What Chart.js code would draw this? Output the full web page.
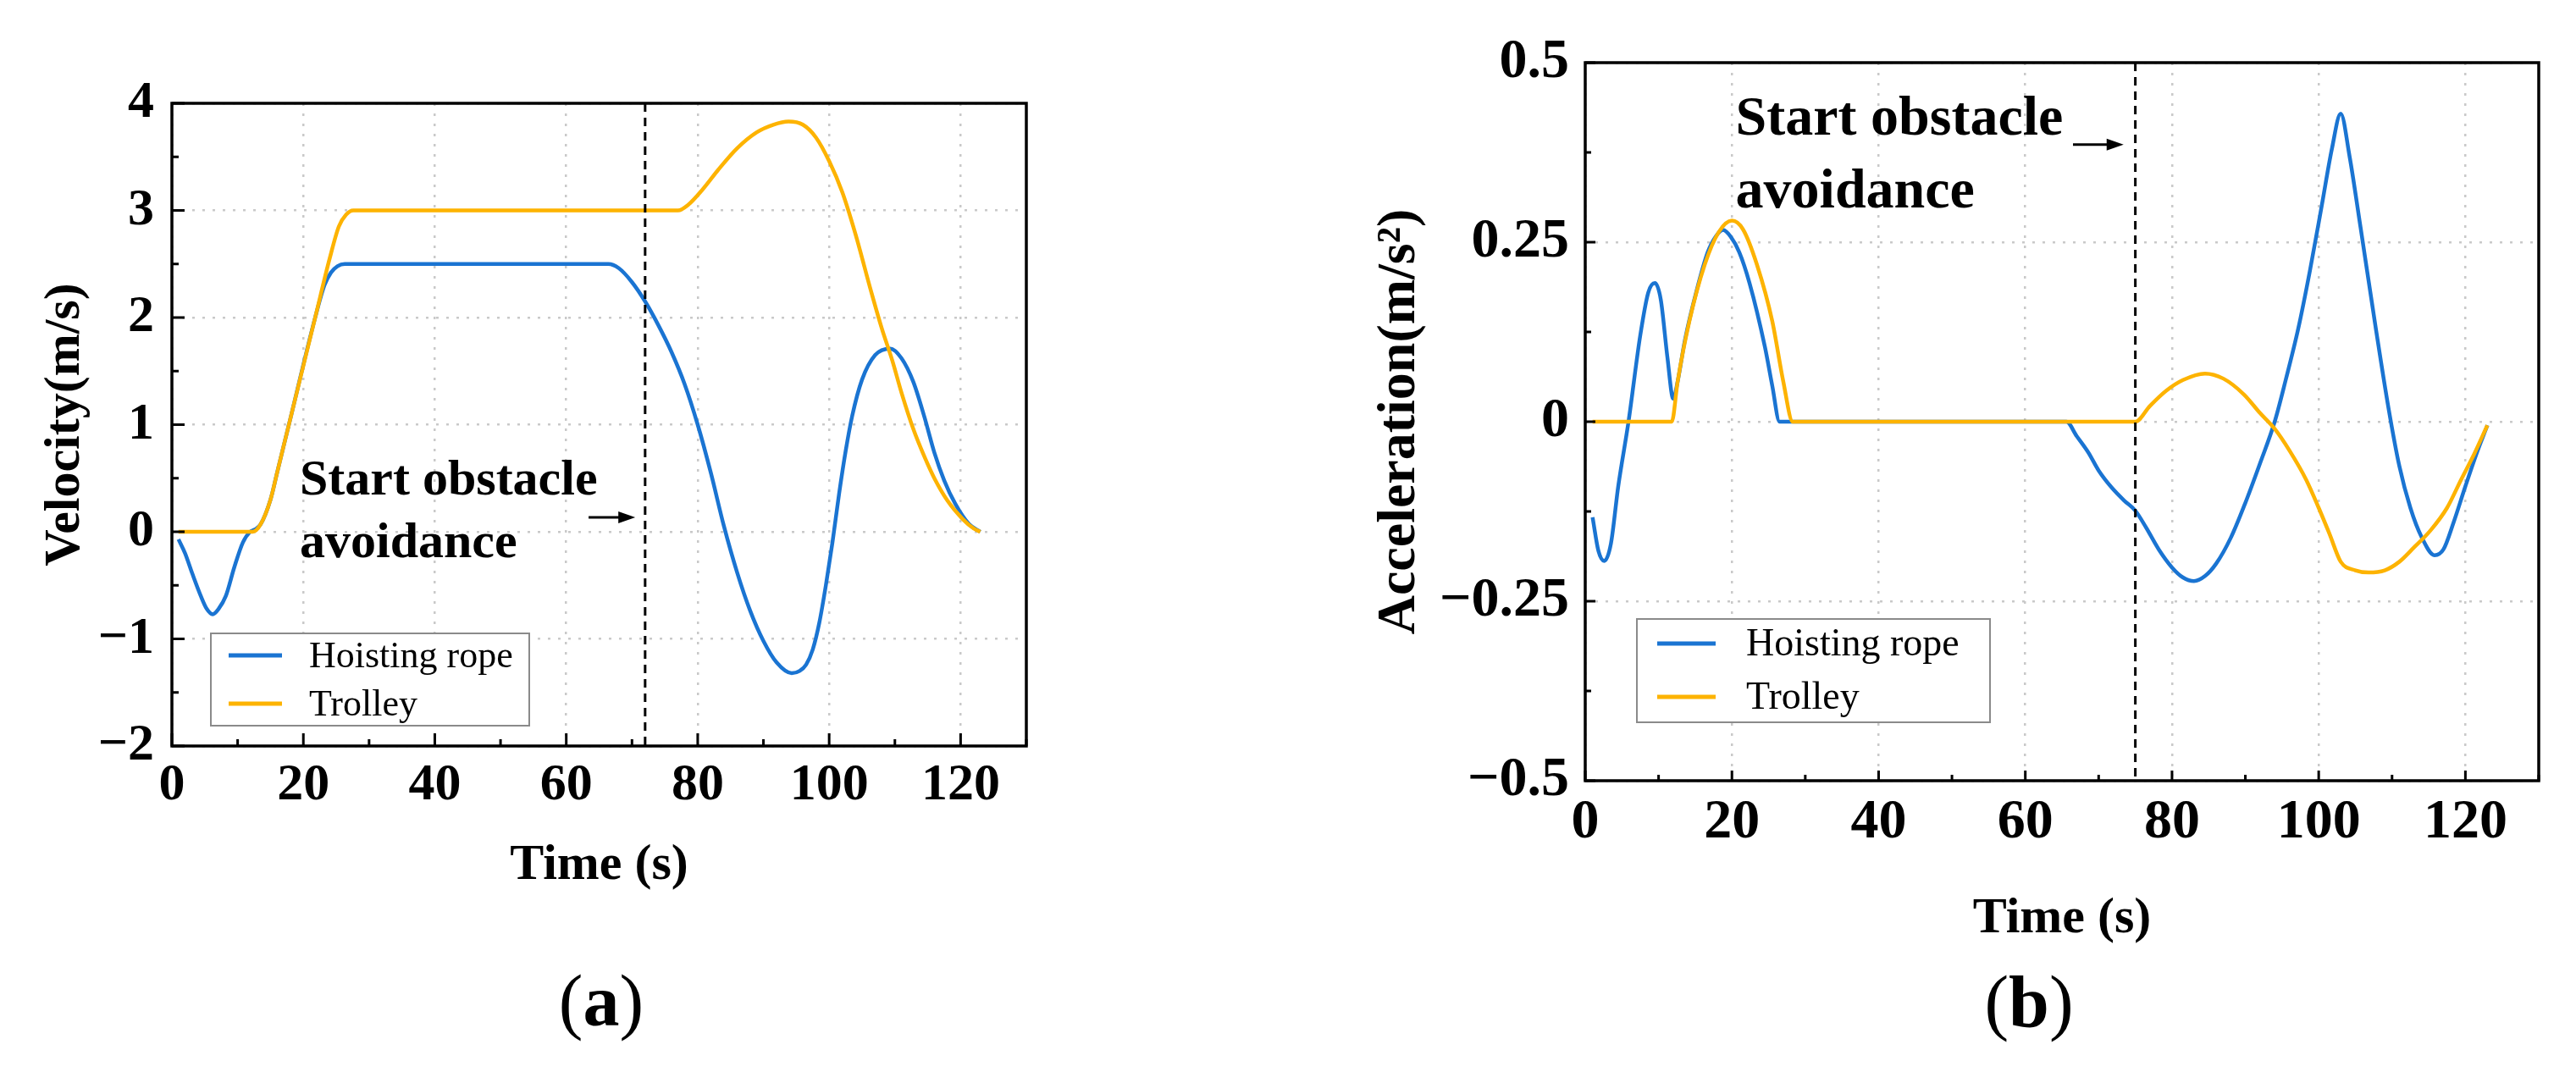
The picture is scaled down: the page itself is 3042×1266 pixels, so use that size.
<!DOCTYPE html>
<html>
<head>
<meta charset="utf-8">
<script src="https://cdn.jsdelivr.net/npm/chart.js@4.4.1/dist/chart.umd.min.js"></script>
<style>
  html, body { margin: 0; padding: 0; background: #fff; }
  body { width: 3042px; height: 1266px; position: relative; overflow: hidden; }
  canvas { position: absolute; top: 0; }
  #chartA { left: 0; }
  #chartB { left: 1560px; }
</style>
</head>
<body>
<canvas id="chartA" width="1300" height="1266"></canvas>
<canvas id="chartB" width="1482" height="1266"></canvas>
<script>
// ---- data ----
const seriesNames = ['Hoisting rope', 'Trolley'];
const noteLines = ['Start obstacle', 'avoidance'];

// (a) velocity, m/s
const ropeVelTime = [1, 2, 3.1, 4.4, 5.3, 6.2, 7.1, 8.2, 9.5, 10.8, 11.9, 12.6, 13.5, 15, 16, 17.8, 21.8, 23.2, 24.2, 25.2, 26.3,
  66.4, 68, 70, 72, 74, 76, 78, 80, 82, 84, 86, 88, 90, 92, 94.3, 95.5, 96.5, 97.5, 98.5, 99.5, 100.5, 101.5, 102.5, 103.5,
  105, 107, 109.3, 111, 112.8, 114.5, 116, 117.5, 119.2, 121.3, 123];
const ropeVel = [-0.07, -0.2, -0.39, -0.6, -0.72, -0.77, -0.72, -0.6, -0.33, -0.1, 0, 0.02, 0.07, 0.3, 0.55, 1.0, 2.0, 2.3, 2.42, 2.48, 2.5,
  2.5, 2.46, 2.33, 2.15, 1.93, 1.68, 1.38, 1.0, 0.55, 0.05, -0.38, -0.74, -1.02, -1.22, -1.32, -1.3, -1.24, -1.1, -0.85, -0.5, -0.1, 0.35, 0.75, 1.08,
  1.42, 1.65, 1.71, 1.62, 1.4, 1.07, 0.74, 0.48, 0.26, 0.07, 0];
const trolleyVelTime = [1, 12.3, 13.5, 15, 16, 17.8, 21.8, 24, 25.4, 26.5, 27.6, 77, 78.5, 80.8, 83, 86, 89, 91.5, 93.8,
  96, 98, 100, 102, 104, 106.4, 108, 109.6, 111, 112.8, 114.5, 116, 118, 120.3, 122, 123];
const trolleyVel = [0, 0, 0.07, 0.3, 0.55, 1.0, 2.0, 2.55, 2.85, 2.96, 3.0, 3.0, 3.05, 3.2, 3.37, 3.58, 3.73, 3.8, 3.83,
  3.8, 3.68, 3.46, 3.17, 2.78, 2.24, 1.9, 1.6, 1.3, 0.96, 0.7, 0.5, 0.29, 0.12, 0.03, 0];

// (b) acceleration, m/s^2
const ropeAccTime = [1, 1.8, 2.6, 3.5, 4.5, 5.9, 7.5, 8.6, 9.5, 10.3, 11.2, 12.0, 12.6, 13.6, 15.2, 16.7, 17.8, 18.8, 19.8,
  21, 22.4, 24.5, 25.5, 26.5, 65.6, 67, 68.6, 70, 71.8, 73.5, 75, 76.5, 78.2, 80, 81.5, 83, 84.5, 86, 88, 90, 92, 94,
  95.5, 97.2, 98.8, 100.4, 101.8, 103, 104.2, 105.7, 107.8, 109.5, 111, 112.5, 114, 115.8, 117, 118.4, 120, 121.5, 123];
const ropeAcc = [-0.133, -0.18, -0.194, -0.17, -0.09, 0, 0.12, 0.18, 0.193, 0.17, 0.09, 0.032, 0.056, 0.114, 0.183, 0.236, 0.258, 0.267, 0.258,
  0.236, 0.193, 0.104, 0.05, 0, 0, -0.02, -0.043, -0.068, -0.092, -0.11, -0.124, -0.148, -0.178, -0.203, -0.217, -0.222, -0.215, -0.198, -0.162, -0.113, -0.058, 0.0,
  0.058, 0.129, 0.21, 0.3, 0.38, 0.429, 0.37, 0.271, 0.129, 0.02, -0.062, -0.12, -0.16, -0.186, -0.178, -0.14, -0.09, -0.045, -0.005];
const trolleyAccTime = [1, 11.8, 12.6, 14.2, 16.3, 18.2, 20, 21.5, 23.4, 25.5, 27, 28.3, 75, 77, 79.2, 81.5, 84.5, 87, 89.8,
  92, 94, 96, 98.3, 100, 101.5, 103, 105, 106.8, 109, 111, 113, 115.2, 117.5, 119.4, 121.2, 123];
const trolleyAcc = [0, 0, 0.056, 0.14, 0.219, 0.264, 0.28, 0.268, 0.219, 0.14, 0.056, 0, 0, 0.022, 0.043, 0.058, 0.067, 0.06, 0.038,
  0.012, -0.01, -0.04, -0.081, -0.12, -0.157, -0.195, -0.207, -0.21, -0.207, -0.195, -0.175, -0.152, -0.12, -0.081, -0.045, -0.005];

const timeRange = [0, 130];
const velRange = [-2, 4];
const accRange = [-0.5, 0.5];

// ---- styling ----
const FONT = "'Liberation Serif', 'Times New Roman', serif";
const BLUE = '#1a74d2';
const ORANGE = '#fdb300';

function toPoints(xs, ys) {
  return xs.map((x, i) => ({ x: x, y: ys[i] }));
}

function fmt(v) {
  return (Math.round(v * 1000) / 1000).toString().replace('-', '\u2212');
}

const decor = {
  id: 'decor',
  afterDatasetsDraw(chart, args, o) {
    const ctx = chart.ctx, xs = chart.scales.x, ys = chart.scales.y, a = chart.chartArea;
    ctx.save();

    // start-of-avoidance marker
    const mx = xs.getPixelForValue(o.marker);
    ctx.strokeStyle = '#000';
    ctx.lineWidth = 3;
    ctx.setLineDash([10, 7]);
    ctx.beginPath();
    ctx.moveTo(mx, a.top);
    ctx.lineTo(mx, a.bottom);
    ctx.stroke();
    ctx.setLineDash([]);

    // inward ticks on left and bottom axes
    ctx.lineWidth = 3;
    ctx.beginPath();
    for (let v = xs.min; v <= xs.max + 1e-9; v += o.xMinor) {
      const major = Math.abs(v / o.xMajor - Math.round(v / o.xMajor)) < 1e-6;
      const px = xs.getPixelForValue(v);
      ctx.moveTo(px, a.bottom);
      ctx.lineTo(px, a.bottom - (major ? o.majorLen : o.minorLen));
    }
    for (let v = ys.min; v <= ys.max + 1e-9; v += o.yMinor) {
      const major = Math.abs(v / o.yMajor - Math.round(v / o.yMajor)) < 1e-6;
      const py = ys.getPixelForValue(v);
      ctx.moveTo(a.left, py);
      ctx.lineTo(a.left + (major ? o.majorLen : o.minorLen), py);
    }
    ctx.stroke();

    // frame
    ctx.lineWidth = 3.5;
    ctx.strokeRect(a.left, a.top, a.right - a.left, a.bottom - a.top);

    // arrow
    const ax0 = xs.getPixelForValue(o.arrow[0]);
    const ax1 = xs.getPixelForValue(o.arrow[1]);
    const ay = ys.getPixelForValue(o.arrow[2]);
    ctx.lineWidth = 3;
    ctx.beginPath();
    ctx.moveTo(ax0, ay);
    ctx.lineTo(ax1 - 12, ay);
    ctx.stroke();
    ctx.fillStyle = '#000';
    ctx.beginPath();
    ctx.moveTo(ax1, ay);
    ctx.lineTo(ax1 - 20, ay - 7);
    ctx.lineTo(ax1 - 20, ay + 7);
    ctx.closePath();
    ctx.fill();

    // note
    ctx.font = 'bold ' + o.noteSize + 'px ' + FONT;
    ctx.textAlign = 'left';
    ctx.textBaseline = 'alphabetic';
    noteLines.forEach((line, i) => {
      ctx.fillText(line, xs.getPixelForValue(o.noteX), ys.getPixelForValue(o.noteY[i]));
    });

    // legend box
    const L = o.legend;
    ctx.fillStyle = '#fff';
    ctx.fillRect(L.left, L.top, L.width, L.height);
    ctx.strokeStyle = '#8a8a8a';
    ctx.lineWidth = 2;
    ctx.strokeRect(L.left, L.top, L.width, L.height);
    ctx.font = L.size + 'px ' + FONT;
    ctx.textBaseline = 'middle';
    chart.data.datasets.forEach((ds, i) => {
      const y = L.rows[i];
      ctx.strokeStyle = ds.borderColor;
      ctx.lineWidth = 5;
      ctx.beginPath();
      ctx.moveTo(L.line[0], y);
      ctx.lineTo(L.line[1], y);
      ctx.stroke();
      ctx.fillStyle = '#000';
      ctx.fillText(ds.label, L.textX, y + 2);
    });

    // caption "(a)" / "(b)"
    const C = o.caption;
    const regular = C.size + 'px ' + FONT;
    const bold = 'bold ' + C.size + 'px ' + FONT;
    ctx.textBaseline = 'alphabetic';
    ctx.font = regular;
    const wp = ctx.measureText('(').width, wq = ctx.measureText(')').width;
    ctx.font = bold;
    const wl = ctx.measureText(C.letter).width;
    let cx = C.x - (wp + wl + wq) / 2;
    ctx.fillStyle = '#000';
    ctx.font = regular; ctx.fillText('(', cx, C.baseline); cx += wp;
    ctx.font = bold; ctx.fillText(C.letter, cx, C.baseline); cx += wl;
    ctx.font = regular; ctx.fillText(')', cx, C.baseline);

    ctx.restore();
  }
};

function makeChart(id, cfg) {
  const gridStyle = { color: '#c9c9c9', lineWidth: 2.5, drawTicks: false };
  return new Chart(document.getElementById(id), {
    type: 'line',
    data: {
      datasets: [
        { label: seriesNames[0], data: toPoints(cfg.t0, cfg.y0), borderColor: BLUE, order: 2 },
        { label: seriesNames[1], data: toPoints(cfg.t1, cfg.y1), borderColor: ORANGE, order: 1 }
      ]
    },
    options: {
      responsive: false,
      animation: false,
      devicePixelRatio: 1,
      layout: { padding: cfg.padding },
      elements: {
        point: { radius: 0 },
        line: { borderWidth: 4.5, cubicInterpolationMode: 'monotone', fill: false }
      },
      plugins: {
        legend: { display: false },
        tooltip: { enabled: false },
        decor: cfg.decor
      },
      scales: {
        x: {
          type: 'linear',
          min: timeRange[0],
          max: timeRange[1],
          grid: gridStyle,
          border: { display: false, dash: [3, 9] },
          ticks: {
            stepSize: 20, includeBounds: false, autoSkip: false, maxRotation: 0,
            padding: cfg.xPad, color: '#000',
            font: { family: FONT, size: cfg.tickSize, weight: 'bold' }
          },
          title: {
            display: true, text: 'Time (s)', color: '#000', padding: 0,
            font: { family: FONT, size: 60, weight: 'bold', lineHeight: 1.2 }
          },
          afterFit: s => { s.height = cfg.xH; }
        },
        y: {
          type: 'linear',
          min: cfg.yRange[0],
          max: cfg.yRange[1],
          grid: gridStyle,
          border: { display: false, dash: [3, 9] },
          ticks: {
            stepSize: cfg.yStep, padding: cfg.yPad, color: '#000', autoSkip: false,
            font: { family: FONT, size: cfg.tickSize, weight: 'bold' },
            callback: v => fmt(v)
          },
          title: {
            display: true, text: cfg.yTitle, color: '#000', padding: { top: cfg.yTitlePad, bottom: 0 },
            font: { family: FONT, size: cfg.yTitleSize, weight: 'bold', lineHeight: 1.2 }
          },
          afterFit: s => { s.width = cfg.yW; }
        }
      }
    },
    plugins: [decor]
  });
}

makeChart('chartA', {
  t0: ropeVelTime, y0: ropeVel, t1: trolleyVelTime, y1: trolleyVel,
  yRange: velRange, yStep: 1, yTitle: 'Velocity(m/s)', yTitleSize: 60,
  padding: { left: 0, top: 122, right: 88, bottom: 208 },
  yW: 203, xH: 177, yTitlePad: 41, xPad: 10, yPad: 21, tickSize: 62,
  decor: {
    marker: 72, xMajor: 20, xMinor: 10, yMajor: 1, yMinor: 0.5, majorLen: 15, minorLen: 8,
    arrow: [63.4, 70.5, 0.134], noteX: 19.45, noteY: [0.35, -0.24], noteSize: 60,
    legend: { left: 249, top: 748, width: 376, height: 109, rows: [774, 831], line: [270, 333], textX: 365, size: 44 },
    caption: { letter: 'a', x: 710, baseline: 1211, size: 86 }
  }
});

makeChart('chartB', {
  t0: ropeAccTime, y0: ropeAcc, t1: trolleyAccTime, y1: trolleyAcc,
  yRange: accRange, yStep: 0.25, yTitle: 'Acceleration(m/s\u00b2)', yTitleSize: 64,
  padding: { left: 0, top: 74, right: 44, bottom: 145 },
  yW: 312, xH: 199, yTitlePad: 55, xPad: 10, yPad: 19, tickSize: 66,
  decor: {
    marker: 75, xMajor: 20, xMinor: 10, yMajor: 0.25, yMinor: 0.125, majorLen: 12, minorLen: 7,
    arrow: [66.5, 73.4, 0.386], noteX: 20.5, noteY: [0.40, 0.298], noteSize: 66,
    legend: { left: 373, top: 731, width: 417, height: 122, rows: [760, 823], line: [397, 466], textX: 502, size: 46 },
    caption: { letter: 'b', x: 836, baseline: 1212, size: 86 }
  }
});
</script>
</body>
</html>
